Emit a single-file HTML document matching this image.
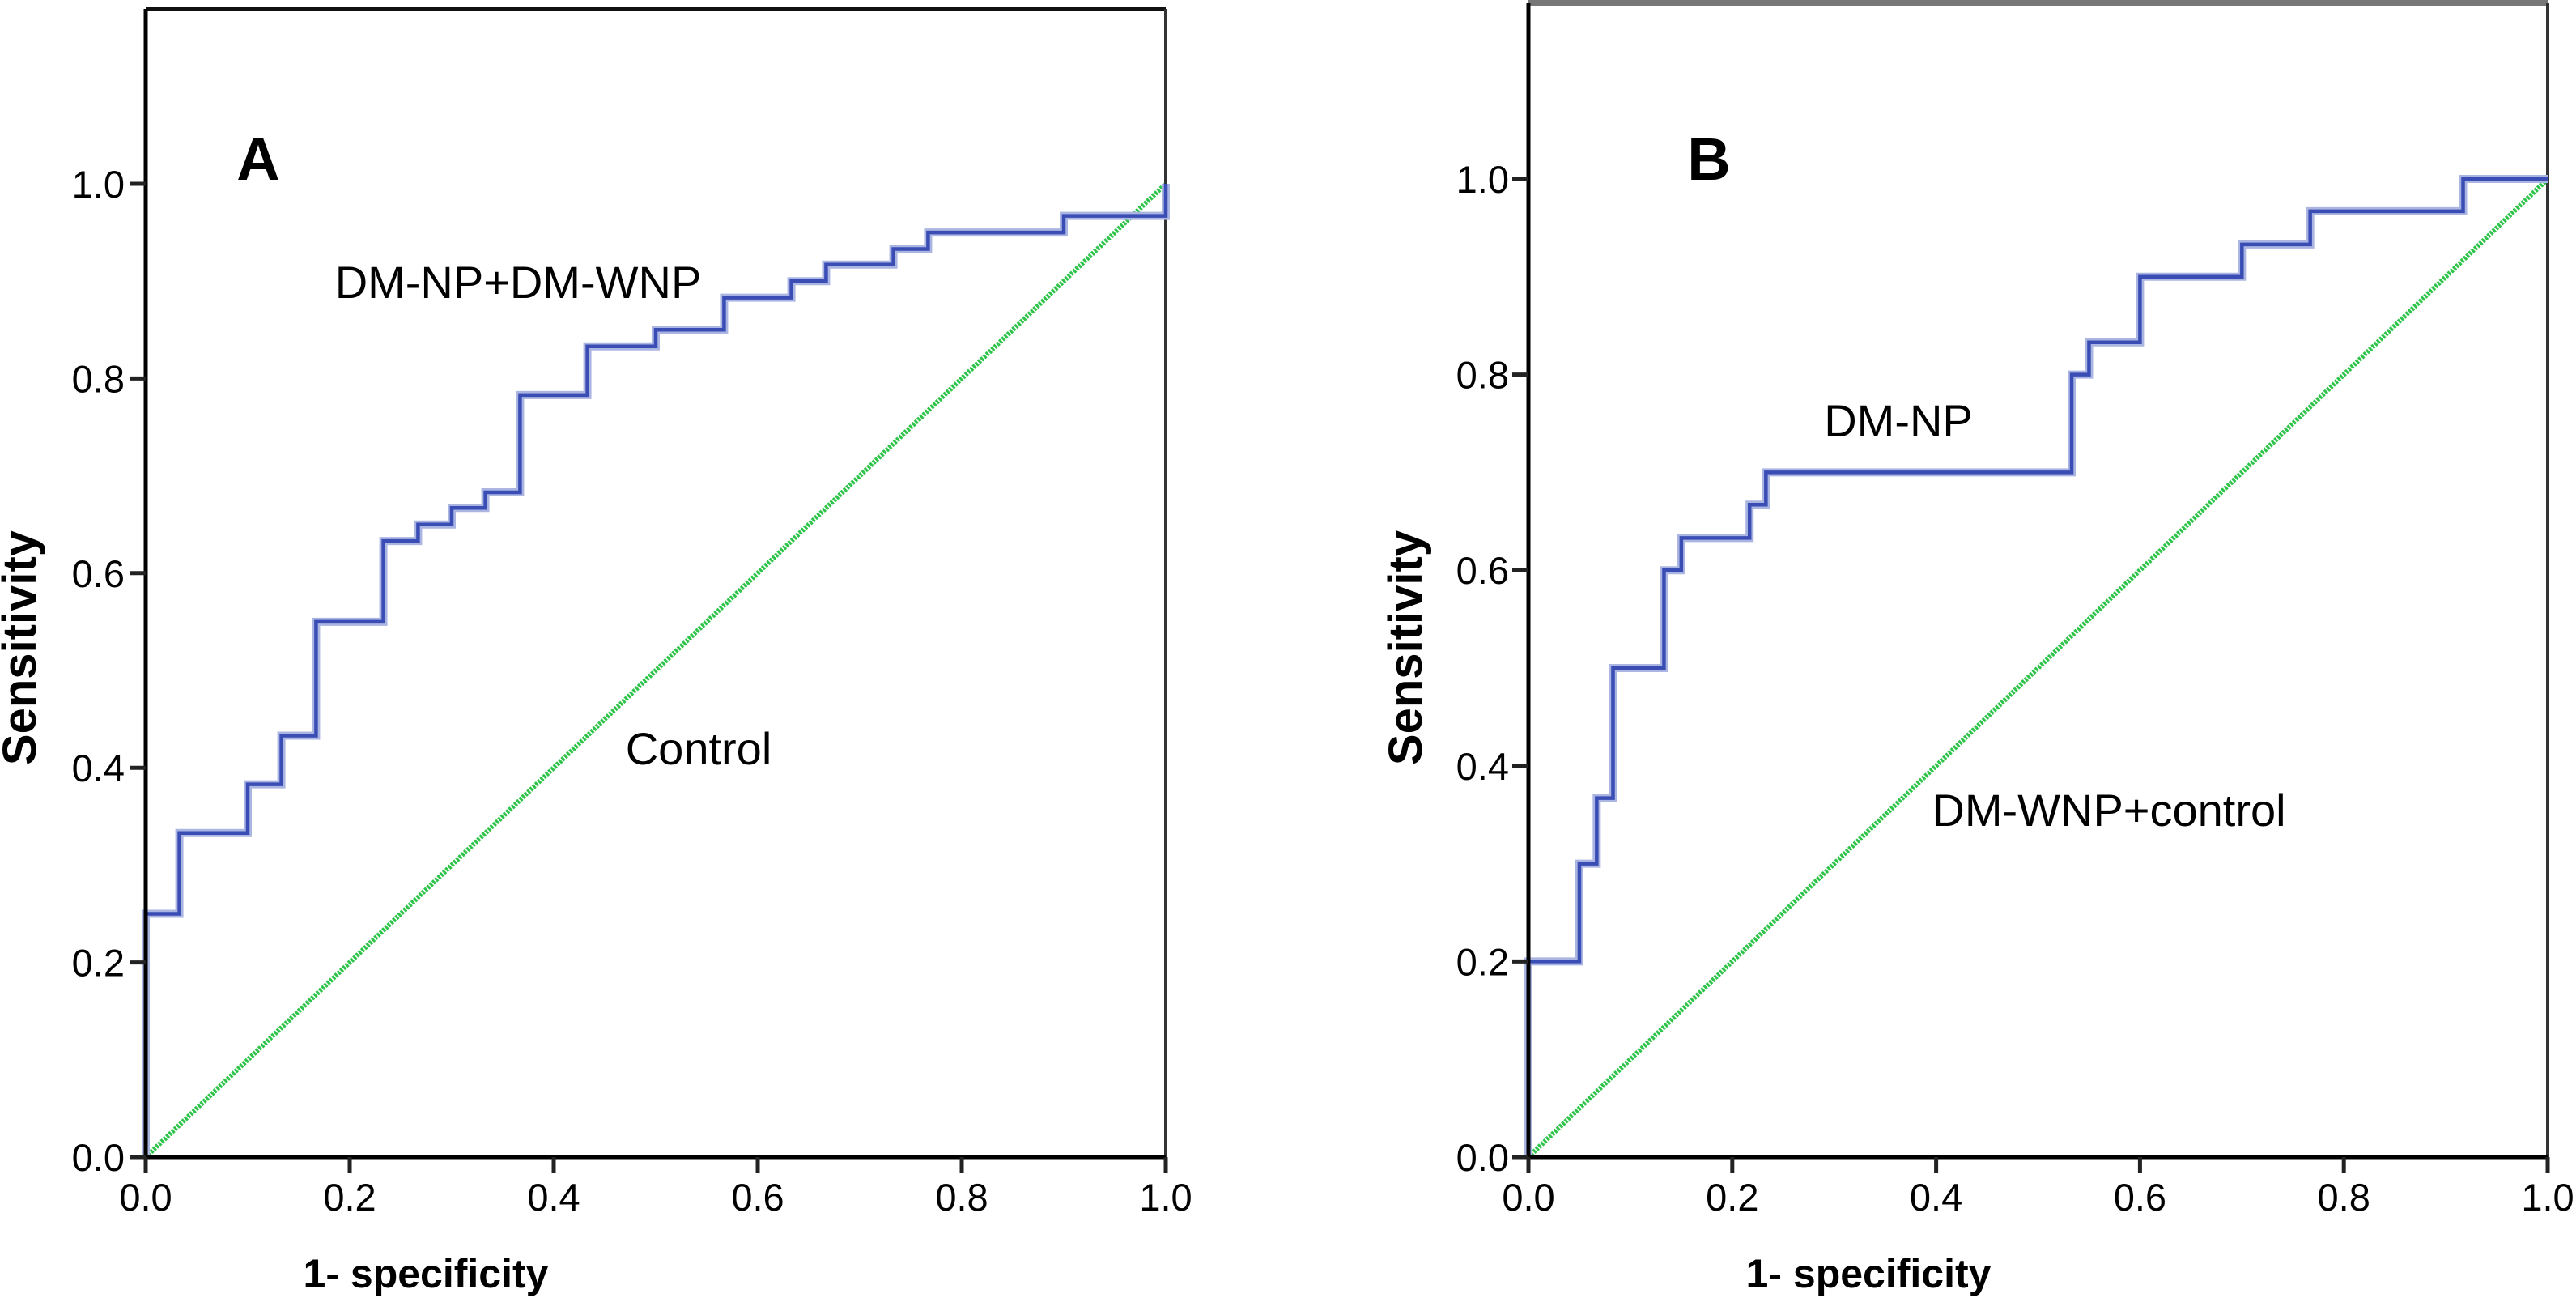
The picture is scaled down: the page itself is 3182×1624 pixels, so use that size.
<!DOCTYPE html>
<html><head><meta charset="utf-8"><style>
html,body{margin:0;padding:0;background:#fff;}
svg{display:block;font-family:"Liberation Sans",Arial,sans-serif;}
</style></head><body>
<svg id="chart" width="3182" height="1624" viewBox="0 0 3182 1624" xmlns="http://www.w3.org/2000/svg"></svg>
<script>
const xTicks = [0, 0.2, 0.4, 0.6, 0.8, 1.0];
const yTicks = [0, 0.2, 0.4, 0.6, 0.8, 1.0];
const tickLabels = ["0.0","0.2","0.4","0.6","0.8","1.0"];
// Panel A steps: [fpr, sensitivity]
const rocAx = [0,0,0.033,0.033,0.1,0.1,0.133,0.133,0.167,0.167,0.233,0.233,0.267,0.267,0.3,0.3,0.333,0.333,0.367,0.367,0.433,0.433,0.5,0.5,0.567,0.567,0.633,0.633,0.667,0.667,0.733,0.733,0.767,0.767,0.9,0.9,1.0,1.0];
const rocAy = [0,0.25,0.25,0.333,0.333,0.383,0.383,0.433,0.433,0.55,0.55,0.633,0.633,0.65,0.65,0.667,0.667,0.683,0.683,0.783,0.783,0.833,0.833,0.85,0.85,0.883,0.883,0.9,0.9,0.917,0.917,0.933,0.933,0.95,0.95,0.967,0.967,1.0];
const rocBx = [0,0,0.05,0.05,0.067,0.067,0.083,0.083,0.133,0.133,0.15,0.15,0.217,0.217,0.233,0.233,0.533,0.533,0.55,0.55,0.6,0.6,0.7,0.7,0.767,0.767,0.917,0.917,1.0];
const rocBy = [0,0.2,0.2,0.3,0.3,0.367,0.367,0.5,0.5,0.6,0.6,0.633,0.633,0.667,0.667,0.7,0.7,0.8,0.8,0.833,0.833,0.9,0.9,0.933,0.933,0.967,0.967,1.0,1.0];
const refX = [0,1];
const refY = [0,1];

const NS="http://www.w3.org/2000/svg";
const svg=document.getElementById('chart');
function mk(tag,attrs,parent){const e=document.createElementNS(NS,tag);for(const k in attrs)e.setAttribute(k,attrs[k]);(parent||svg).appendChild(e);return e;}

const panels=[
 {id:'a',x0:180,x1:1440,y0:1429,y1:227,top:11,topColor:'#111',letter:'A',lx:319,ly:222,
  rx:rocAx,ry:rocAy,lab1:'DM-NP+DM-WNP',l1x:640,l1y:368,lab2:'Control',l2x:863,l2y:944,
  yLabX:154,sensX:44,specX:526},
 {id:'b',x0:1888,x1:3147,y0:1429,y1:221,top:4,topColor:'#777',letter:'B',lx:2111,ly:222,
  rx:rocBx,ry:rocBy,lab1:'DM-NP',l1x:2345,l1y:539,lab2:'DM-WNP+control',l2x:2605,l2y:1020,
  yLabX:1864,sensX:1756,specX:2308}
];

panels.forEach(p=>{
  const g=mk('g',{});
  
  
  const sx=v=>p.x0+v*(p.x1-p.x0);
  const sy=v=>p.y0-v*(p.y0-p.y1);
  const top=mk('line',{x1:p.x0,y1:p.top,x2:p.x1,y2:p.top,stroke:p.topColor,'stroke-width':p.id==='b'?8:4},g);
  
  
  const rgt=mk('line',{x1:p.x1,y1:p.top,x2:p.x1,y2:p.y0,stroke:'#333','stroke-width':4},g);
  
  
  const d=mk('line',{x1:sx(refX[0]),y1:sy(refY[0]),x2:sx(refX[1]),y2:sy(refY[1]),stroke:'#2ec44a','stroke-width':6,'stroke-dasharray':'3 1.5'},g);
  
  
  let pts=p.rx.map((v,i)=>sx(v)+','+sy(p.ry[i])).join(' ');
  const h=mk('polyline',{points:pts,fill:'none',stroke:'#aab5e2','stroke-width':10,'stroke-linejoin':'miter'},g);
  
  
  const c=mk('polyline',{points:pts,fill:'none',stroke:'#3a4db5','stroke-width':4.5,'stroke-linejoin':'miter'},g);
  
  
  const ya=mk('line',{x1:p.x0,y1:p.top,x2:p.x0,y2:p.y0+20,stroke:'#000','stroke-width':5},g);
  
  
  const xa=mk('line',{x1:p.x0-20,y1:p.y0,x2:p.x1,y2:p.y0,stroke:'#000','stroke-width':5},g);
  
  
  yTicks.forEach((v,i)=>{
    const t=mk('line',{x1:p.x0-20,y1:sy(v),x2:p.x0,y2:sy(v),stroke:'#222','stroke-width':5},g);
    
    
    const l=mk('text',{x:p.yLabX,y:sy(v)+17,'text-anchor':'end','font-size':47},g);
    
    
    l.textContent=tickLabels[i];
  });
  xTicks.forEach((v,i)=>{
    const t=mk('line',{x1:sx(v),y1:p.y0,x2:sx(v),y2:p.y0+20,stroke:'#222','stroke-width':5},g);
    
    
    const l=mk('text',{x:sx(v),y:p.y0+66,'text-anchor':'middle','font-size':47},g);
    
    
    l.textContent=tickLabels[i];
  });
  const lt=mk('text',{x:p.lx,y:p.ly,'text-anchor':'middle','font-size':74,'font-weight':'bold'},g);
  
  
  lt.textContent=p.letter;
  const a1=mk('text',{x:p.l1x,y:p.l1y,'text-anchor':'middle','font-size':56},g);
  
  
  a1.textContent=p.lab1;
  const a2=mk('text',{x:p.l2x,y:p.l2y,'text-anchor':'middle','font-size':56},g);
  
  
  a2.textContent=p.lab2;
  const yt=mk('text',{x:p.sensX,y:800,'text-anchor':'middle','font-size':58,'font-weight':'bold',transform:'rotate(-90 '+p.sensX+' 800)'},g);
  
  
  yt.textContent='Sensitivity';
  const xt=mk('text',{x:p.specX,y:1590,'text-anchor':'middle','font-size':50,'font-weight':'bold'},g);
  
  
  xt.textContent='1- specificity';
});
</script>
</body></html>
